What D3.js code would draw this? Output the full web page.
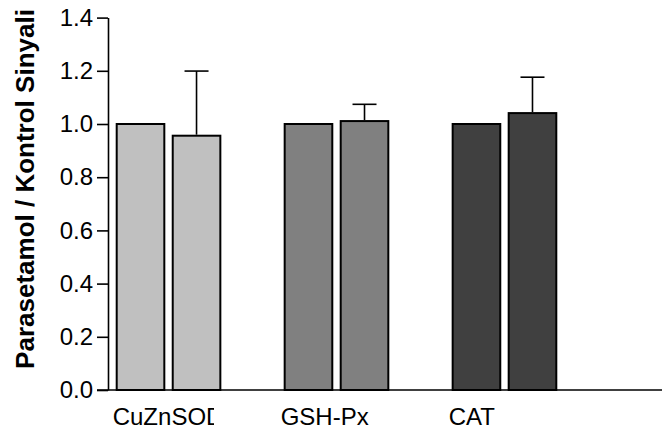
<!DOCTYPE html>
<html>
<head>
<meta charset="utf-8">
<script src="https://cdn.jsdelivr.net/npm/d3@7"></script>
<style>
  body { margin: 0; background: #fff; }
  svg { display: block; font-family: "Liberation Sans", Arial, sans-serif; }
</style>
</head>
<body>
<svg width="662" height="432"></svg>
<script>
// chart data
const categories = ["CuZnSOD", "GSH-Px", "CAT"];
const series = ["Kontrol", "Parasetamol"];
const controlValues = [1.0, 1.0, 1.0];
const paraValues = [0.956, 1.011, 1.041];
const paraErrors = [0.243, 0.063, 0.135];
const yTicks = [0.0, 0.2, 0.4, 0.6, 0.8, 1.0, 1.2, 1.4];
const groupColors = ["#c0c0c0", "#808080", "#404040"];

const svg = d3.select("svg");
const axisX = 108;
const axisY = 390;

const yScale = d3.scaleLinear().domain([0, 1.4]).range([axisY, 17.6]);
const xScale = d3.scaleBand().domain(categories).range([116.7, 556.3]).paddingInner(0.383).paddingOuter(0);
const xSub = d3.scaleBand().domain(series).range([0, xScale.bandwidth()]).paddingInner(0.15);

const rows = categories.map((c, i) => ({ cat: c, vals: [controlValues[i], paraValues[i]], err: paraErrors[i], color: groupColors[i] }));

// y axis
const yAxis = svg.append("g").attr("transform", "translate(" + axisX + ",0)")
  .call(d3.axisLeft(yScale).tickValues(yTicks).tickFormat(d3.format(".1f")).tickSize(11).tickPadding(4).tickSizeOuter(0));
yAxis.select(".domain").attr("stroke", "#000").attr("stroke-width", 1.6);
yAxis.selectAll(".tick line").attr("stroke", "#000").attr("stroke-width", 1.6);
yAxis.selectAll(".tick text").attr("font-size", 24).attr("fill", "#000").attr("font-family", "Liberation Sans, Arial, sans-serif");

// x axis line
svg.append("line").attr("x1", axisX - 11).attr("x2", 662).attr("y1", axisY).attr("y2", axisY)
  .attr("stroke", "#000").attr("stroke-width", 1.6);

// bars
const groups = svg.selectAll(".grp").data(rows).enter().append("g")
  .attr("transform", d => "translate(" + xScale(d.cat) + ",0)");

groups.selectAll("rect").data(d => d.vals.map((v, j) => ({ v: v, s: series[j], color: d.color }))).enter().append("rect")
  .attr("x", d => xSub(d.s))
  .attr("y", d => yScale(d.v))
  .attr("width", xSub.bandwidth())
  .attr("height", d => axisY - yScale(d.v))
  .attr("fill", d => d.color)
  .attr("stroke", "#000")
  .attr("stroke-width", 2);

// error bars (upper only)
const cx = xSub(series[1]) + xSub.bandwidth() / 2;
groups.append("line")
  .attr("x1", cx).attr("x2", cx)
  .attr("y1", d => yScale(d.vals[1]) - 1)
  .attr("y2", d => yScale(d.vals[1] + d.err))
  .attr("stroke", "#000").attr("stroke-width", 1.6);
groups.append("line")
  .attr("x1", cx - 12).attr("x2", cx + 12)
  .attr("y1", d => yScale(d.vals[1] + d.err))
  .attr("y2", d => yScale(d.vals[1] + d.err))
  .attr("stroke", "#000").attr("stroke-width", 1.6);

// category labels (first one is cut off at the right, as in the original)
svg.append("clipPath").attr("id", "lblclip").append("rect")
  .attr("x", 0).attr("y", 395).attr("width", 214).attr("height", 37);
svg.selectAll(".xlbl").data(categories).enter().append("text")
  .attr("x", d => xScale(d) - 4)
  .attr("y", 424.5)
  .attr("font-size", 24)
  .attr("fill", "#000")
  .attr("clip-path", (d, i) => i === 0 ? "url(#lblclip)" : null)
  .text(d => d);

// y title
svg.append("text")
  .attr("transform", "translate(34,189) rotate(-90)")
  .attr("text-anchor", "middle")
  .attr("font-size", 26)
  .attr("font-weight", "bold")
  .attr("fill", "#000")
  .text("Parasetamol / Kontrol Sinyali");
</script>
</body>
</html>
